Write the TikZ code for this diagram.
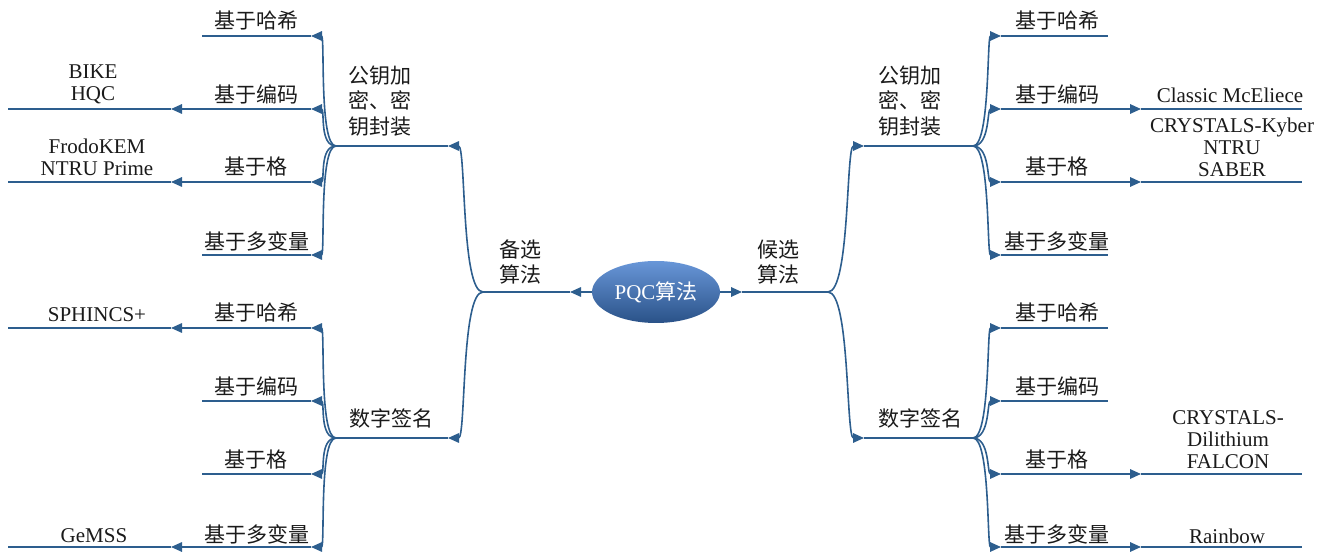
\documentclass[tikz,border=0pt]{standalone}
\usepackage{fontspec}
\setmainfont{Liberation Serif}
\newfontfamily\cjkf{Noto Sans CJK SC}
\usetikzlibrary{arrows.meta}
\definecolor{lc}{HTML}{2D5E8E}
\definecolor{tc}{HTML}{1A1A1A}
\tikzset{
  ln/.style={draw=lc, line width=1.6pt},
  tip/.style={-{Triangle[length=11pt,width=9.5pt]}},
  lbl/.style={font=\fontsize{21}{22}\selectfont, text=tc, align=center, inner sep=0pt},
  zlbl/.style={font=\fontsize{21}{25.5}\selectfont\cjkf, text=tc, align=center, inner sep=0pt},
  ell/.style={ellipse, minimum width=128pt, minimum height=62pt, inner sep=0pt,
    top color={rgb,255:red,104;green,150;blue,216}, bottom color={rgb,255:red,42;green,82;blue,136},
    draw=none, text=white, font=\fontsize{21}{22}\selectfont}
}
\usetikzlibrary{shapes.geometric}
\begin{document}
\begin{tikzpicture}[x=1pt,y=-1pt]
\useasboundingbox (0,0) rectangle (1334,553);
% centre
\node[ell] (pqc) at (656,292) {PQC{\cjkf 算法}};
\coordinate (ra) at (742,292); \coordinate (RB) at (828,292);
\coordinate (la) at (570,292); \coordinate (LB) at (483,292);
\draw[ln,tip] (pqc.east) -- (ra); \draw[ln] (ra) -- (RB);
\draw[ln,tip] (pqc.west) -- (la); \draw[ln] (la) -- (LB);
\node[zlbl] (hx) at (778,262) {候选\\算法};
\node[zlbl] (bx) at (520,262) {备选\\算法};
% right main branches
\coordinate (rt) at (864,146); \coordinate (rtb) at (973,146);
\coordinate (rd) at (864,438); \coordinate (rdb) at (973,438);
\draw[ln,tip] (RB) .. controls +(22,0) and +(-18,0) .. (rt);
\draw[ln,tip] (RB) .. controls +(22,0) and +(-18,0) .. (rd);
\draw[ln] (rt) -- (rtb); \draw[ln] (rd) -- (rdb);
\node[zlbl] (rtl) at (910,101) {公钥加\\密、密\\钥封装};
\node[zlbl] (rdl) at (920,418) {数字签名};
% left main branches
\coordinate (lt) at (448,146); \coordinate (ltb) at (336,146);
\coordinate (ld) at (448,438); \coordinate (ldb) at (336,438);
\draw[ln,tip] (LB) .. controls +(-22,0) and +(18,0) .. (lt);
\draw[ln,tip] (LB) .. controls +(-22,0) and +(18,0) .. (ld);
\draw[ln] (lt) -- (ltb); \draw[ln] (ld) -- (ldb);
\node[zlbl] (ltl) at (380,101) {公钥加\\密、密\\钥封装};
\node[zlbl] (ldl) at (391,418) {数字签名};
% sub-branches
\foreach \s/\b/\ya/\yb/\yc/\yd in {t/tb/36/109/182/255, d/db/328/401/474/547}{
  \foreach \n/\y in {1/\ya,2/\yb,3/\yc,4/\yd}{
    \coordinate (r\s\n) at (1001,\y);
    \draw[ln,tip] (r\b) .. controls +(17,0) and +(-14,0) .. (r\s\n);
    \coordinate (l\s\n) at (311,\y);
    \draw[ln,tip] (l\b) .. controls +(-17,0) and +(14,0) .. (l\s\n);
  }
}
% right top leaves
\coordinate (rt1e) at (1108,36);  \draw[ln] (rt1) -- (rt1e);
\coordinate (rt4e) at (1108,255); \draw[ln] (rt4) -- (rt4e);
\coordinate (rt2m) at (1141,109); \coordinate (rt2e) at (1302,109);
\draw[ln,tip] (rt2) -- (rt2m); \draw[ln] (rt2m) -- (rt2e);
\coordinate (rt3m) at (1141,182); \coordinate (rt3e) at (1302,182);
\draw[ln,tip] (rt3) -- (rt3m); \draw[ln] (rt3m) -- (rt3e);
% right bottom leaves
\coordinate (rd1e) at (1108,328); \draw[ln] (rd1) -- (rd1e);
\coordinate (rd2e) at (1108,401); \draw[ln] (rd2) -- (rd2e);
\coordinate (rd3m) at (1141,474); \coordinate (rd3e) at (1302,474);
\draw[ln,tip] (rd3) -- (rd3m); \draw[ln] (rd3m) -- (rd3e);
\coordinate (rd4m) at (1141,547); \coordinate (rd4e) at (1302,547);
\draw[ln,tip] (rd4) -- (rd4m); \draw[ln] (rd4m) -- (rd4e);
% left top leaves
\coordinate (lt1e) at (202,36);  \draw[ln] (lt1) -- (lt1e);
\coordinate (lt4e) at (202,255); \draw[ln] (lt4) -- (lt4e);
\coordinate (lt2m) at (171,109); \coordinate (lt2e) at (8,109);
\draw[ln,tip] (lt2) -- (lt2m); \draw[ln] (lt2m) -- (lt2e);
\coordinate (lt3m) at (171,182); \coordinate (lt3e) at (8,182);
\draw[ln,tip] (lt3) -- (lt3m); \draw[ln] (lt3m) -- (lt3e);
% left bottom leaves
\coordinate (ld2e) at (202,401); \draw[ln] (ld2) -- (ld2e);
\coordinate (ld3e) at (202,474); \draw[ln] (ld3) -- (ld3e);
\coordinate (ld1m) at (171,328); \coordinate (ld1e) at (8,328);
\draw[ln,tip] (ld1) -- (ld1m); \draw[ln] (ld1m) -- (ld1e);
\coordinate (ld4m) at (171,547); \coordinate (ld4e) at (8,547);
\draw[ln,tip] (ld4) -- (ld4m); \draw[ln] (ld4m) -- (ld4e);
% sub-branch labels right
\node[zlbl] (a1) at (1057,21) {基于哈希};
\node[zlbl] (a2) at (1057,94) {基于编码};
\node[zlbl] (a3) at (1057,167) {基于格};
\node[zlbl] (a4) at (1057,241) {基于多变量};
\node[zlbl] (b1) at (1057,313) {基于哈希};
\node[zlbl] (b2) at (1057,386) {基于编码};
\node[zlbl] (b3) at (1057,460) {基于格};
\node[zlbl] (b4) at (1057,534) {基于多变量};
% sub-branch labels left
\node[zlbl] (c1) at (256,21) {基于哈希};
\node[zlbl] (c2) at (256,94) {基于编码};
\node[zlbl] (c3) at (256,167) {基于格};
\node[zlbl] (c4) at (257,241) {基于多变量};
\node[zlbl] (d1) at (256,313) {基于哈希};
\node[zlbl] (d2) at (256,386) {基于编码};
\node[zlbl] (d3) at (256,460) {基于格};
\node[zlbl] (d4) at (257,534) {基于多变量};
% leaf texts
\node[lbl] (e1) at (1230,95) {Classic McEliece};
\node[lbl] (e2) at (1232,147) {CRYSTALS-Kyber\\NTRU\\SABER};
\node[lbl] (e3) at (1228,440) {CRYSTALS-\\Dilithium\\FALCON};
\node[lbl] (e4) at (1227,536) {Rainbow};
\node[lbl] (f1) at (93,84) {BIKE\\HQC};
\node[lbl] (f2) at (97,157) {FrodoKEM\\NTRU Prime};
\node[lbl] (f3) at (97,315) {SPHINCS+};
\node[lbl] (f4) at (94,536) {GeMSS};
\end{tikzpicture}
\end{document}
